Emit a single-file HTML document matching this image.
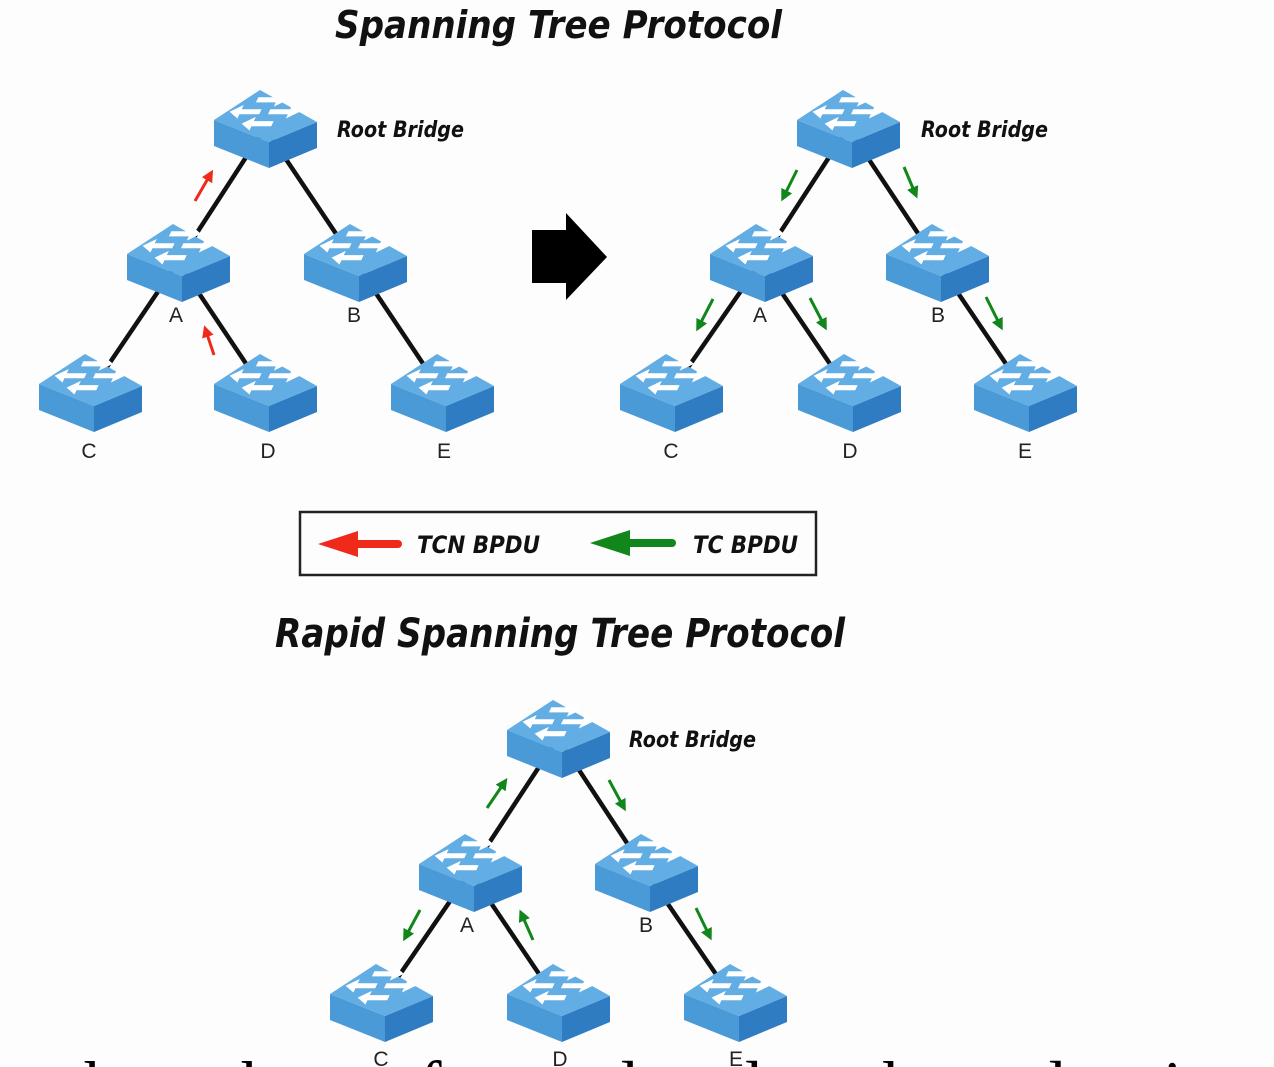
<!DOCTYPE html>
<html><head><meta charset="utf-8"><style>
html,body{margin:0;padding:0;background:#fdfdfd;width:1274px;height:1067px;overflow:hidden}
svg{display:block;overflow:hidden}
.t{font-family:"DejaVu Sans","Liberation Sans",sans-serif;font-weight:bold;font-style:italic;fill:#111}
.l{font-family:"Liberation Sans",sans-serif;font-size:21px;fill:#222}
</style></head><body>
<svg width="1274" height="1067" viewBox="0 0 1274 1067" xmlns="http://www.w3.org/2000/svg">
<defs>
<g id="sw">
<polygon points="-51,-8 4,14 4,40 -51,18" fill="#4a9ad8"/>
<polygon points="4,14 52,-6 52,20 4,40" fill="#2f7cc2"/>
<polygon points="-51,-8 -5,-38 52,-6 4,14" fill="#62ade3"/>
<g fill="#fff" transform="translate(0,-12) skewX(-25) scale(1.1,0.85)">
<polygon points="-14,-22 4,-22 4,-27 14,-19 4,-11 4,-16 -14,-16"/>
<polygon points="2,-8 20,-8 20,-13 30,-5 20,3 20,-2 2,-2"/>
<polygon points="-6,-8 -24,-8 -24,-13 -34,-5 -24,3 -24,-2 -6,-2"/>
<polygon points="10,6 -8,6 -8,1 -18,9 -8,17 -8,12 10,12"/>
</g>
</g>
<marker id="mr" markerWidth="4" markerHeight="4" refX="2" refY="2" orient="auto" markerUnits="strokeWidth"><path d="M0,0 L4,2 L0,4 z" fill="#f02a1a"/></marker>
<marker id="mg" markerWidth="4" markerHeight="4" refX="2" refY="2" orient="auto" markerUnits="strokeWidth"><path d="M0,0 L4,2 L0,4 z" fill="#11861a"/></marker>
</defs>

<text class="t" x="335" y="38" font-size="38" textLength="447" lengthAdjust="spacingAndGlyphs">Spanning Tree Protocol</text>
<text class="t" x="275" y="647" font-size="40" textLength="570" lengthAdjust="spacingAndGlyphs">Rapid Spanning Tree Protocol</text>

<g stroke="#111" stroke-width="4.5" fill="none">
<path d="M265,128 L178,262 M265,128 L355,262 M178,262 L90,392 M178,262 L265,392 M355,262 L442,392"/>
<path d="M848,128 L761,262 M848,128 L937,262 M761,262 L671,392 M761,262 L849,392 M937,262 L1025,392"/>
<path d="M558,738 L470,872 M558,738 L646,872 M470,872 L381,1002 M470,872 L558,1002 M646,872 L735,1002"/>
</g>

<use href="#sw" x="265" y="128"/><use href="#sw" x="178" y="262"/><use href="#sw" x="355" y="262"/>
<use href="#sw" x="90" y="392"/><use href="#sw" x="265" y="392"/><use href="#sw" x="442" y="392"/>
<use href="#sw" x="848" y="128"/><use href="#sw" x="761" y="262"/><use href="#sw" x="937" y="262"/>
<use href="#sw" x="671" y="392"/><use href="#sw" x="849" y="392"/><use href="#sw" x="1025" y="392"/>
<use href="#sw" x="558" y="738"/><use href="#sw" x="470" y="872"/><use href="#sw" x="646" y="872"/>
<use href="#sw" x="381" y="1002"/><use href="#sw" x="558" y="1002"/><use href="#sw" x="735" y="1002"/>

<g stroke-width="3" fill="none">
<path d="M195,201 L210,175" stroke="#f02a1a" marker-end="url(#mr)"/>
<path d="M214,355 L206,331" stroke="#f02a1a" marker-end="url(#mr)"/>
<g stroke="#11861a" marker-end="url(#mg)">
<path d="M797,170 L784,196"/><path d="M904,167 L915,193"/>
<path d="M713,299 L699,326"/><path d="M810,298 L824,325"/><path d="M986,297 L1000,325"/>
<path d="M487,808 L504,783"/><path d="M609,780 L623,806"/>
<path d="M420,910 L406,936"/><path d="M533,940 L522,915"/><path d="M696,908 L709,935"/>
</g>
</g>

<polygon points="532,230 566,230 566,213 607,257 566,300 566,283 532,283" fill="#000"/>

<g class="t" font-size="22">
<text x="337" y="137" textLength="127" lengthAdjust="spacingAndGlyphs">Root Bridge</text>
<text x="921" y="137" textLength="127" lengthAdjust="spacingAndGlyphs">Root Bridge</text>
<text x="629" y="747" textLength="127" lengthAdjust="spacingAndGlyphs">Root Bridge</text>
</g>
<g class="l" text-anchor="middle">
<text x="176" y="322">A</text><text x="354" y="322">B</text>
<text x="89" y="458">C</text><text x="268" y="458">D</text><text x="444" y="458">E</text>
<text x="760" y="322">A</text><text x="938" y="322">B</text>
<text x="671" y="458">C</text><text x="850" y="458">D</text><text x="1025" y="458">E</text>
<text x="467" y="932">A</text><text x="646" y="932">B</text>
<text x="381" y="1066">C</text><text x="560" y="1066">D</text><text x="736" y="1066">E</text>
</g>

<rect x="300" y="512" width="516" height="63" fill="none" stroke="#222" stroke-width="2.5"/>
<path d="M398,544 L350,544" stroke="#f02a1a" stroke-width="8" stroke-linecap="round"/>
<polygon points="318,544 358,531 358,557" fill="#f02a1a"/>
<path d="M672,543 L622,543" stroke="#11861a" stroke-width="8" stroke-linecap="round"/>
<polygon points="590,543 630,530 630,556" fill="#11861a"/>
<text class="t" x="417" y="553" font-size="24" textLength="123" lengthAdjust="spacingAndGlyphs">TCN BPDU</text>
<text class="t" x="693" y="553" font-size="24" textLength="105" lengthAdjust="spacingAndGlyphs">TC BPDU</text>

<text x="40" y="1108" font-family="Liberation Serif,serif" font-size="68" fill="#000" textLength="1200" lengthAdjust="spacing">when a change of root and topology change detection</text>
</svg>
</body></html>
